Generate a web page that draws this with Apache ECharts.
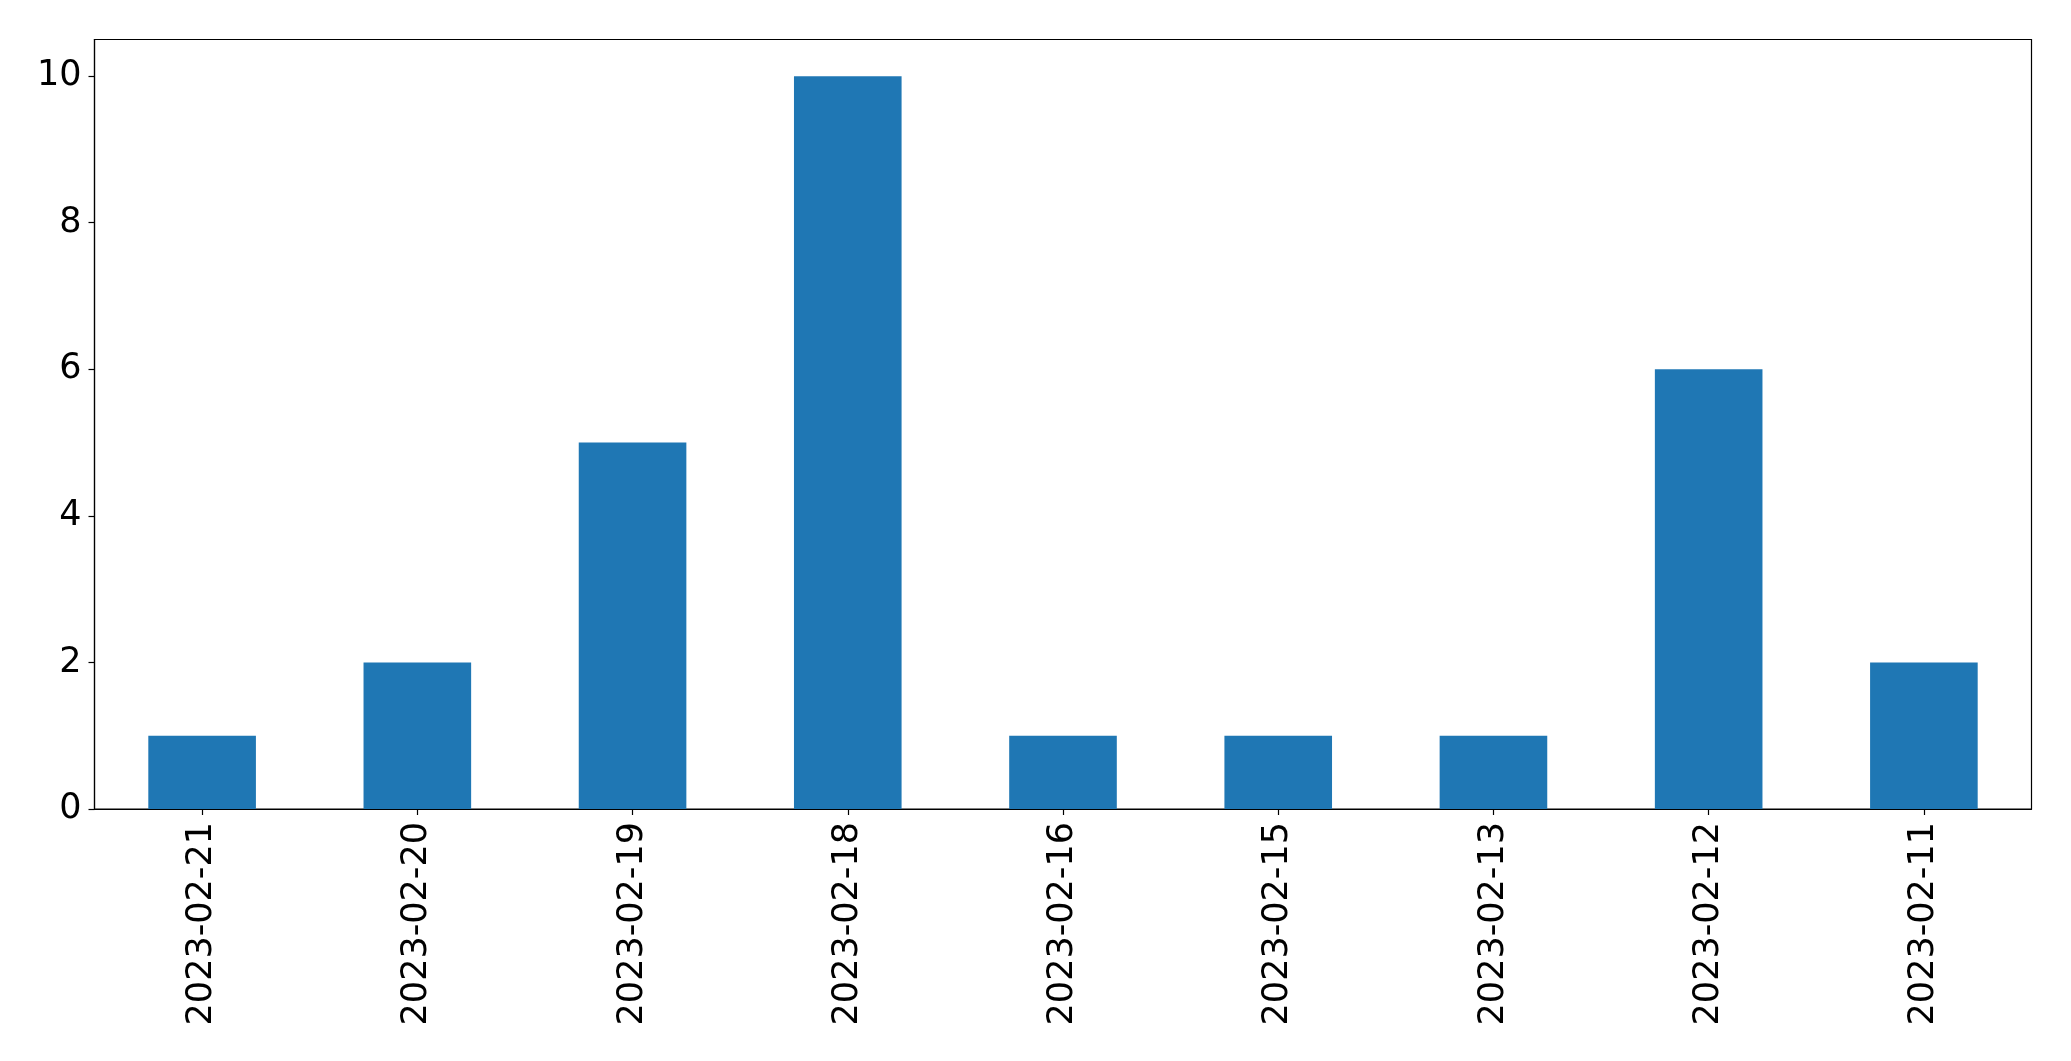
<!DOCTYPE html>
<html>
<head>
<meta charset="utf-8">
<script src="https://cdn.jsdelivr.net/npm/echarts@6/dist/echarts.min.js"></script>
<style>
html,body{margin:0;padding:0;background:#fff;}
#chart{width:2071px;height:1061px;}
</style>
</head>
<body>
<div id="chart"></div>
<script>
const categories = ['2023-02-21','2023-02-20','2023-02-19','2023-02-18','2023-02-16','2023-02-15','2023-02-13','2023-02-12','2023-02-11'];
const values = [1, 2, 5, 10, 1, 1, 1, 6, 2];
const yTicks = [0, 2, 4, 6, 8, 10];

const chart = echarts.init(document.getElementById('chart'), null, {renderer: 'canvas'});
const font = 'DejaVu Sans';
chart.setOption({
  animation: false,
  backgroundColor: '#ffffff',
  grid: {
    left: 94.5, right: 39.5, top: 39.5, bottom: 252,
    show: true, borderColor: '#000000', borderWidth: 1.2, backgroundColor: 'transparent'
  },
  xAxis: {
    type: 'category',
    data: categories,
    axisLine: {show: true, lineStyle: {color: '#000', width: 1.2}},
    axisTick: {show: true, alignWithLabel: true, length: 6, lineStyle: {color: '#000', width: 1.2}},
    axisLabel: {rotate: 90, margin: 13, fontFamily: font, fontSize: 35, color: '#000'},
    splitLine: {show: false}
  },
  yAxis: {
    type: 'value',
    min: 0, max: 10.5,
    axisLine: {show: true, lineStyle: {color: '#000', width: 1.2}},
    axisTick: {show: true, length: 6, customValues: yTicks, lineStyle: {color: '#000', width: 1.2}},
    axisLabel: {
      margin: 13, fontFamily: font, fontSize: 35, color: '#000',
      customValues: yTicks
    },
    splitLine: {show: false}
  },
  series: [{
    type: 'bar',
    data: values,
    barWidth: '50%',
    itemStyle: {color: '#1f77b4'}
  }]
});
</script>
</body>
</html>
